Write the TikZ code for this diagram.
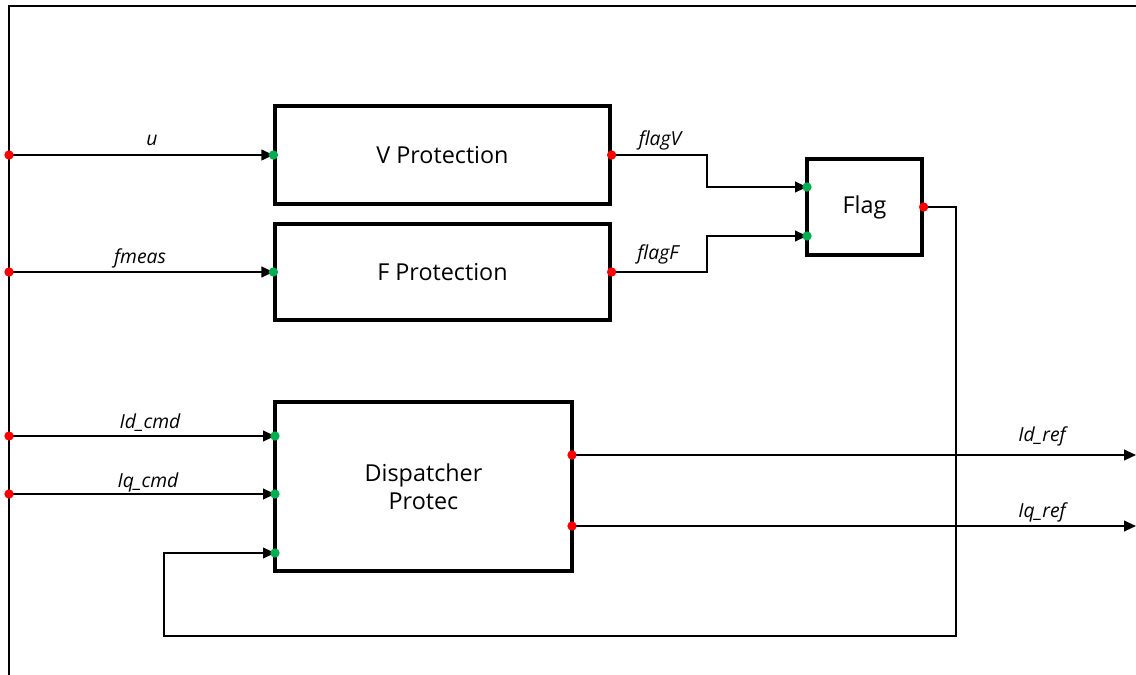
\documentclass[tikz,border=0pt]{standalone}
\usepackage{fontspec}
\setmainfont{Open Sans}
\usetikzlibrary{arrows.meta}
\definecolor{pgreen}{RGB}{0,176,80}
\begin{document}
\begin{tikzpicture}[x=0.75pt,y=-0.75pt,
  blk/.style={draw=black, line width=2.4pt, fill=white, font=\fontsize{17.5}{21}\selectfont, align=center, inner sep=0pt},
  wire/.style={line width=1.5pt},
  sig/.style={wire, -{Triangle[length=9pt,width=8pt]}},
  lbl/.style={font=\itshape\fontsize{14.5}{16}\selectfont, inner sep=0pt},
  rdot/.style={circle, fill=red, inner sep=0pt, minimum size=7pt},
  gdot/.style={circle, fill=pgreen, inner sep=0pt, minimum size=7pt}]
\useasboundingbox (0,0) rectangle (1136,675);
% frame
\draw[line width=1.6pt] (1136,6) -- (9,6) -- (9,675);
% blocks
\node[blk, minimum width=251.25pt, minimum height=73.5pt] (vp) at (442.5,155) {V Protection};
\node[blk, minimum width=251.25pt, minimum height=72pt] (fp) at (442.5,272) {F Protection};
\node[blk, minimum width=86.25pt, minimum height=72pt] (fl) at (864.5,207) {Flag};
\node[blk, minimum width=222.75pt, minimum height=126.75pt] (dp) at (423.5,486.5) {Dispatcher\\[0pt]Protec};
% ports
\coordinate (iu) at (9,155);
\coordinate (if) at (9,272);
\coordinate (id) at (9,436);
\coordinate (iq) at (9,494);
\coordinate (fl1) at (807,187);
\coordinate (fl2) at (807,236);
\coordinate (dpd) at (275,436);
\coordinate (dpq) at (275,494);
\coordinate (dpf) at (275,553);
\coordinate (dod) at (572,455);
\coordinate (doq) at (572,526);
\coordinate (oid) at (1136,455);
\coordinate (oiq) at (1136,526);
% connectors
\draw[sig] (iu) -- (vp.west);
\draw[sig] (if) -- (fp.west);
\draw[sig] (id) -- (dpd);
\draw[sig] (iq) -- (dpq);
\draw[sig] (vp.east) -- (707,155) -- (707,187) -- (fl1);
\draw[sig] (fp.east) -- (707,272) -- (707,236) -- (fl2);
\draw[sig] (fl.east) -- (956,207) -- (956,636) -- (164,636) -- (164,553) -- (dpf);
\draw[sig] (dod) -- (oid);
\draw[sig] (doq) -- (oiq);
% labels
\node[lbl] (lu) at (152,140) {u};
\node[lbl] (lf) at (140,258) {fmeas};
\node[lbl] (ld) at (150,423) {Id\_cmd};
\node[lbl] (lq) at (148,482) {Iq\_cmd};
\node[lbl] (lv) at (660,140) {flagV};
\node[lbl] (lff) at (658,254) {flagF};
\node[lbl] (lrd) at (1042,436) {Id\_ref};
\node[lbl] (lrq) at (1042,512) {Iq\_ref};
% dots
\foreach \p in {iu,if,id,iq,vp.east,fp.east,fl.east,dod,doq} \node[rdot] at (\p) {};
\foreach \p in {vp.west,fp.west,fl1,fl2,dpd,dpq,dpf} \node[gdot] at (\p) {};
\end{tikzpicture}
\end{document}
